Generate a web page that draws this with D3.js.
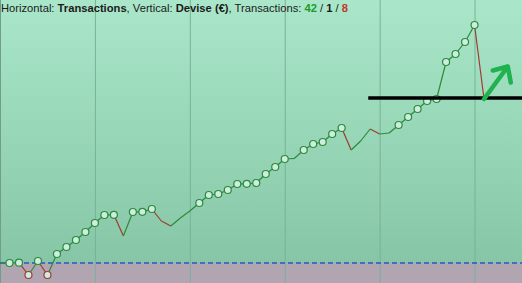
<!DOCTYPE html>
<html>
<head>
<meta charset="utf-8">
<script src="https://cdn.jsdelivr.net/npm/d3@7"></script>
<style>
  body { margin: 0; background: #fff; }
  svg { display: block; }
</style>
</head>
<body>
<div id="chart"></div>
<script>
// Equity after each transaction (€), transaction 0 = start
var transactions = d3.range(0, 52);
var equity = [0, 0, 3, -120, 20, -120, 90, 160, 230, 310,
  400, 480, 482, 270, 510, 512, 540, 420, 370, 450,
  520, 600, 680, 690, 730, 790, 792, 800, 890, 960,
  1040, 1045, 1130, 1190, 1210, 1290, 1350, 1130, 1220, 1340,
  1290, 1300, 1380, 1460, 1540, 1620, 1640, 2010, 2090, 2210,
  2380, 1640];
// 1 = point drawn with a marker
var markers = [0, 1, 1, 1, 1, 1, 1, 1, 1, 1,
  1, 1, 1, 0, 1, 1, 1, 0, 0, 0,
  0, 1, 1, 1, 1, 1, 1, 1, 1, 1,
  1, 0, 1, 1, 1, 1, 1, 0, 0, 0,
  0, 0, 1, 1, 1, 1, 1, 1, 1, 1,
  1, 0];
var gridTicks = [10, 20, 30, 40, 50];
var stats = {wins: 42, even: 1, losses: 8};
// hand-drawn annotations (data units)
var levelLine = {from: 38.8, value: 1650};
var arrowFrom = [51, 1640], arrowTo = [53.5, 1965];

var width = 522, height = 283;

var x = d3.scaleLinear().domain([0, 55]).range([0, width]);
var y = d3.scaleLinear().domain([-200, 2630]).range([height, 0]);

var svg = d3.select("#chart").append("svg")
  .attr("width", width)
  .attr("height", height);

var defs = svg.append("defs");
var grad = defs.append("linearGradient")
  .attr("id", "bg")
  .attr("x1", 0).attr("y1", 0).attr("x2", 0).attr("y2", 1);
grad.append("stop").attr("offset", "0%").attr("stop-color", "#aae7ca");
grad.append("stop").attr("offset", "100%").attr("stop-color", "#86c6a6");

// background
svg.append("rect")
  .attr("width", width)
  .attr("height", y(0))
  .attr("fill", "url(#bg)");

svg.append("rect")
  .attr("y", y(0))
  .attr("width", width)
  .attr("height", height - y(0))
  .attr("fill", "#b1a5b1");

// vertical grid
svg.append("g")
  .attr("transform", `translate(0, ${height})`)
  .call(d3.axisBottom(x).tickValues(gridTicks).tickSize(height).tickFormat(""))
  .call(g => g.select(".domain").remove())
  .call(g => g.selectAll("line")
    .attr("transform", `translate(0, ${-height})`)
    .attr("y1", 0).attr("y2", height)
    .attr("stroke", "#78b298").attr("stroke-width", 1));

svg.append("line")
  .attr("x1", 0.5).attr("x2", 0.5)
  .attr("y1", 0).attr("y2", height)
  .attr("stroke", "#6f9f88");

// zero line
svg.append("line")
  .attr("x1", 0).attr("x2", width)
  .attr("y1", y(0)).attr("y2", y(0))
  .attr("stroke", "#2a55c8")
  .attr("stroke-width", 1.3)
  .attr("stroke-dasharray", "5,3");

// equity segments, red when losing
var segs = transactions.slice(1).map(function(t, i) {
  return {x0: transactions[i], y0: equity[i], x1: t, y1: equity[i + 1]};
});

svg.append("g").selectAll("line")
  .data(segs)
  .enter()
  .append("line")
  .attr("x1", d => x(d.x0))
  .attr("y1", d => y(d.y0))
  .attr("x2", d => x(d.x1))
  .attr("y2", d => y(d.y1))
  .attr("stroke", d => d.y1 < d.y0 ? "#a33a2e" : "#2c8a3c")
  .attr("stroke-width", 1.2);

// markers
var pts = transactions.map((t, i) => ({t: t, v: equity[i], m: markers[i], down: i > 0 && equity[i] < equity[i - 1]}))
  .filter(d => d.m);

svg.append("g").selectAll("circle")
  .data(pts)
  .enter()
  .append("circle")
  .attr("cx", d => x(d.t))
  .attr("cy", d => y(d.v))
  .attr("r", 3.5)
  .attr("fill", "#cdeede")
  .attr("stroke", d => d.down ? "#a33a3a" : "#2c8a3c")
  .attr("stroke-width", 1.2);

// black level line
svg.append("line")
  .attr("x1", x(levelLine.from)).attr("x2", width)
  .attr("y1", y(levelLine.value)).attr("y2", y(levelLine.value))
  .attr("stroke", "#000")
  .attr("stroke-width", 3.5);

// green arrow
var ax0 = x(arrowFrom[0]), ay0 = y(arrowFrom[1]);
var ax1 = x(arrowTo[0]), ay1 = y(arrowTo[1]);
svg.append("path")
  .attr("d", `M${ax0},${ay0}L${ax1},${ay1}M${ax1 - 15},${ay1 + 4}L${ax1},${ay1}L${ax1 + 3},${ay1 + 16}`)
  .attr("fill", "none")
  .attr("stroke", "#1fb24e")
  .attr("stroke-width", 4.5)
  .attr("stroke-linejoin", "round")
  .attr("stroke-linecap", "round");

// header
var title = svg.append("text")
  .attr("x", 1)
  .attr("y", 12)
  .attr("font-family", "Liberation Sans, Arial, sans-serif")
  .attr("font-size", 11.2)
  .attr("fill", "#1a1a1a");

var parts = [
  ["Horizontal: ", "normal", "#1a1a1a"],
  ["Transactions", "bold", "#1a1a1a"],
  [", Vertical: ", "normal", "#1a1a1a"],
  ["Devise (€)", "bold", "#1a1a1a"],
  [", Transactions: ", "normal", "#1a1a1a"],
  [String(stats.wins), "bold", "#1e9a2a"],
  [" / ", "normal", "#1a1a1a"],
  [String(stats.even), "bold", "#1a1a1a"],
  [" / ", "normal", "#1a1a1a"],
  [String(stats.losses), "bold", "#c03a2a"]
];

title.selectAll("tspan")
  .data(parts)
  .enter()
  .append("tspan")
  .attr("font-weight", d => d[1])
  .attr("fill", d => d[2])
  .text(d => d[0]);
</script>
</body>
</html>
